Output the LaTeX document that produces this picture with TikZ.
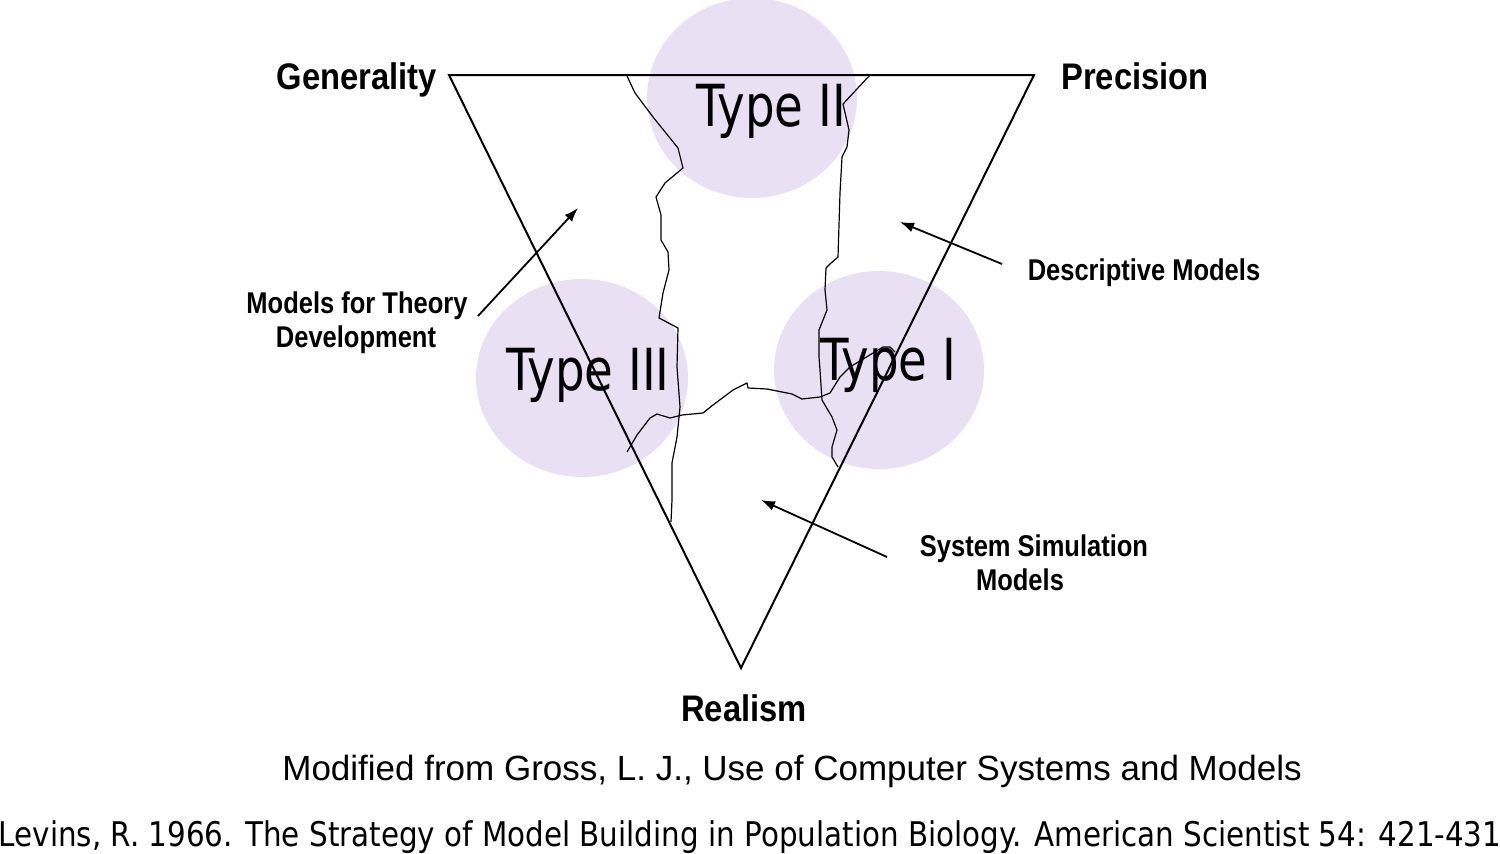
\documentclass[tikz,border=0pt]{standalone}
\usepackage{fontspec}
\setmainfont{Liberation Sans}
\newfontfamily\lblfont{Liberation Sans}[FakeStretch=0.885]
\newfontfamily\smlblfont{Liberation Sans}[FakeStretch=0.85]
\newfontfamily\typefont{DejaVu Sans}[FakeStretch=0.805]
\newfontfamily\reffont{DejaVu Sans}[FakeStretch=0.864]
\newfontfamily\modfont{Liberation Sans}
\usetikzlibrary{arrows.meta}
\definecolor{lav}{HTML}{E9E0F3}
\tikzset{
  blob/.style={fill=lav, draw=none},
  mainlbl/.style={font=\lblfont\bfseries\fontsize{37}{40}\selectfont, inner sep=0, anchor=base},
  modlbl/.style={font=\smlblfont\bfseries\fontsize{30}{34}\selectfont, inner sep=0, anchor=base},
  typelbl/.style={font=\typefont\fontsize{58}{60}\selectfont, inner sep=0, anchor=base},
  crack/.style={line width=1.2pt, line join=round},
  pointer/.style={line width=1.8pt, -{Latex[length=14pt,width=10pt]}},
  edge/.style={line width=2pt, line join=miter}
}
\begin{document}
\begin{tikzpicture}[x=1pt,y=-1pt]
\useasboundingbox (0,0) rectangle (1500,854);
% circles
\fill[blob] (752,98) ellipse [x radius=105, y radius=100];
\fill[blob] (582,378) ellipse [x radius=106, y radius=99];
\fill[blob] (879,370) ellipse [x radius=105, y radius=99];
% triangle
\coordinate (G) at (449,75);
\coordinate (P) at (1034,75);
\coordinate (R) at (741,668);
\draw[edge] (G) -- (P) -- (R) -- cycle;
% cracks
\draw[crack] (627,76) -- (635,93) -- (653,117) -- (678,148) -- (683,168) -- (665,183) -- (656,197) -- (661,215) -- (661,240) -- (668,252) -- (669,270) -- (663,293) -- (659,318) -- (678,328) -- (677,367) -- (680,407) -- (677,437) -- (672,463) -- (672,500) -- (671,522);
\draw[crack] (870,75) -- (843,104) -- (849,130) -- (847,147) -- (842,157) -- (840,193) -- (838,257) -- (830,264) -- (826,268) -- (825,290) -- (827,310) -- (819,330) -- (819,357) -- (820,370) -- (822,400) -- (832,417) -- (837,430) -- (832,447) -- (832,457) -- (838,467);
\draw[crack] (627,452) -- (637,435) -- (650,418) -- (657,414) -- (670,418) -- (682,415) -- (703,413) -- (713,405) -- (733,390) -- (747,383) -- (748,388) -- (767,389) -- (792,394) -- (802,399) -- (820,397) -- (830,393) -- (840,377) -- (850,367) -- (873,353) -- (883,347) -- (890,347) -- (895,352);
% type labels
\node[typelbl] (t2) at (771,126) {Type II};
\node[typelbl] (t3) at (588,390) {Type III};
\node[typelbl] (t1) at (888,380) {Type I};
% corner labels
\node[mainlbl] (gen) at (357,89) {Generality};
\node[mainlbl] (pre) at (1135,89) {Precision};
\node[mainlbl] (rea) at (744,721) {Realism};
% model labels
\node[modlbl] (mt1) at (357,313) {Models for Theory};
\node[modlbl] (mt2) at (356,347) {Development};
\node[modlbl] (dm) at (1144,280) {Descriptive Models};
\node[modlbl] (ss1) at (1034,556) {System Simulation};
\node[modlbl] (ss2) at (1020,590) {Models};
% arrows
\coordinate (a1s) at (478,316); \coordinate (a1e) at (578,208);
\coordinate (a2s) at (1002,264); \coordinate (a2e) at (900,222);
\coordinate (a3s) at (887,557); \coordinate (a3e) at (761,500);
\draw[pointer] (a1s) -- (a1e);
\draw[pointer] (a2s) -- (a2e);
\draw[pointer] (a3s) -- (a3e);
% references
\node[font=\modfont\fontsize{35}{37}\selectfont, inner sep=0, anchor=base] (mod) at (792,780) {Modified from Gross, L. J., Use of Computer Systems and Models};
\node[font=\reffont\fontsize{34}{36}\selectfont, inner sep=0, anchor=base] (lev) at (750,846) {Levins, R. 1966. The Strategy of Model Building in Population Biology. American Scientist 54: 421-431};
\end{tikzpicture}
\end{document}
